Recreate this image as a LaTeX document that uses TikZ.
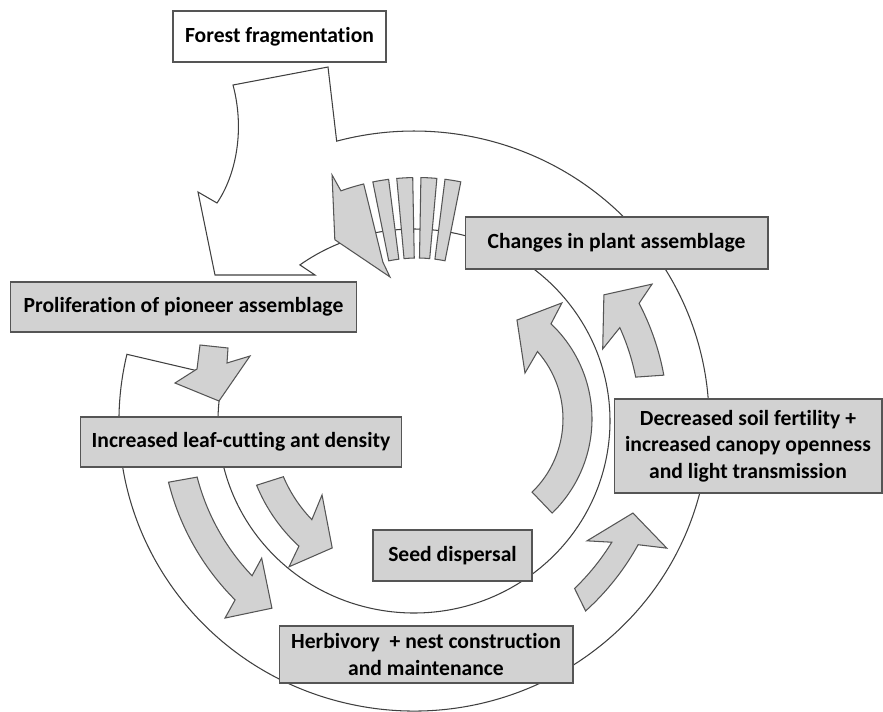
\documentclass[tikz,border=0pt]{standalone}
\usepackage{fontspec}
\setmainfont{Carlito}[Ligatures=NoCommon]
\usetikzlibrary{calc}
\definecolor{boxgray}{RGB}{210,210,210}
\definecolor{edgegray}{RGB}{85,85,85}
\tikzset{
  stage/.style={draw=edgegray, fill=boxgray, line width=0.6pt, inner sep=0pt,
    align=center, font=\fontsize{12.3}{15}\selectfont\bfseries},
  arrowbox/.style={draw=edgegray, fill=boxgray, line width=0.6pt},
  ringband/.style={draw=black!75, fill=white, line width=0.6pt}
}
\begin{document}
\begin{tikzpicture}[x=0.02cm, y=-0.02cm]
    \useasboundingbox (0,0) rectangle (883,711);
    % centres of the arcs
    \coordinate (o) at (414,421);
    \coordinate (p) at (461,419);
    \coordinate (q) at (417,401);

    % the ring with the fragmentation arrow
    \draw[ringband] (o) ++(193.3:295 and 290)
        arc[start angle=193.3, end angle=-105.2, x radius=295, y radius=290]
        -- (328,67) -- (233,85) .. controls (245,130) and (236,175) .. (217,203)
        -- (198,192) -- (215,275) -- (315,275)
        -- ($(o)+(234.4:196 and 192)$)
        arc[start angle=234.4, end angle=553.3, x radius=196, y radius=192]
        -- cycle;

    % gray arrows
    \draw[arrowbox] (200,345) -- (228,348) -- (227,363) -- (250,356)
        -- (219,401) -- (175,383) -- (197,369) -- cycle;
    \draw[arrowbox] ($(o)+(166:253)$) arc[start angle=166, end angle=135, radius=253]
        -- ($(o)+(133.8:273)$) -- ($(o)+(127.2:235)$) -- ($(o)+(138:205)$)
        -- ($(o)+(136.3:224)$) arc[start angle=136.3, end angle=165.5, radius=224] -- cycle;
    \draw[arrowbox] ($(o)+(157.8:170)$) arc[start angle=157.8, end angle=132.6, radius=170]
        -- ($(o)+(130.6:192)$) -- ($(o)+(122.8:151)$) -- ($(o)+(141.2:118)$)
        -- ($(o)+(136:142)$) arc[start angle=136, end angle=156.9, radius=142] -- cycle;
    \draw[arrowbox] ($(o)+(47.9:256)$) arc[start angle=47.9, end angle=28.9, radius=256]
        -- ($(o)+(26.7:283)$) -- ($(o)+(22.8:237.5)$) -- ($(o)+(34.7:210.5)$)
        -- ($(o)+(31.5:232)$) arc[start angle=31.5, end angle=46.2, radius=232] -- cycle;
    \draw[arrowbox] ($(o)+(-10.4:254)$) arc[start angle=-10.4, end angle=-27.6, radius=254]
        -- ($(o)+(-29.9:274.6)$) -- ($(o)+(-33.6:228)$) -- ($(o)+(-20.9:202)$)
        -- ($(o)+(-24.4:226)$) arc[start angle=-24.4, end angle=-11.2, radius=226] -- cycle;
    \draw[arrowbox] ($(p)+(45.9:131)$) arc[start angle=45.9, end angle=-46.6, radius=131]
        -- ($(p)+(-49:153.8)$) -- ($(p)+(-60.5:113.7)$) -- ($(p)+(-35.7:78.8)$)
        -- ($(p)+(-41.4:102)$) arc[start angle=-41.4, end angle=45.8, radius=102] -- cycle;

    % striped arrow at the top
    \draw[arrowbox] ($(q)+(-110.6:241.5)$) -- ($(q)+(-109.9:223.5)$)
        arc[start angle=-109.9, end angle=-103.8, radius=223.5]
        -- ($(q)+(-103.8:143)$) -- ($(q)+(-102.3:127)$) -- ($(q)+(-117:181)$) -- cycle;
    \foreach \a in {-99.35,-93.15,-86.95,-80.75}
        \draw[arrowbox] ($(q)+(\a-2.05:223.5)$)
            arc[start angle=\a-2.05, end angle=\a+2.05, radius=223.5]
            -- ($(q)+(\a+2.05:143)$)
            arc[start angle=\a+2.05, end angle=\a-2.05, radius=143] -- cycle;

    % stages
    \node[stage, fill=white, minimum width=4.26cm, minimum height=1.02cm] (forest)
        at (279.5,36.5) {Forest fragmentation};
    \node[stage, minimum width=6.94cm, minimum height=1cm] (pioneer)
        at (183.5,307) {Proliferation of pioneer assemblage};
    \node[stage, minimum width=6.44cm, minimum height=1cm] (antdensity)
        at (241,442) {Increased leaf-cutting ant density};
    \node[stage, minimum width=3.18cm, minimum height=1.02cm] (seed)
        at (452.5,555.5) {Seed dispersal};
    \node[stage, minimum width=5.88cm, minimum height=1.14cm] (herbivory)
        at (426,654.5) {Herbivory\ \ + nest construction\\and maintenance};
    \node[stage, minimum width=5.36cm, minimum height=1.88cm] (soil)
        at (748,446) {Decreased soil fertility +\\increased canopy openness\\and light transmission};
    \node[stage, minimum width=6.06cm, minimum height=1.04cm] (plants)
        at (616.5,243) {Changes in plant assemblage};
\end{tikzpicture}
\end{document}
